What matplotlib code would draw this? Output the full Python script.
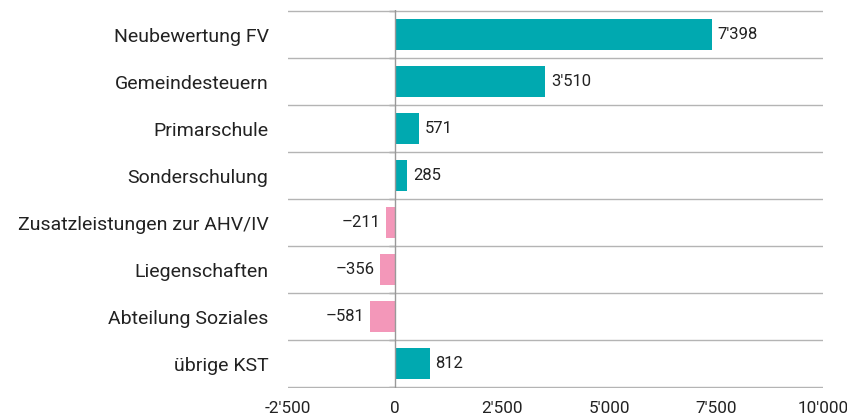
import matplotlib.pyplot as plt
import numpy as np

categories = ['Neubewertung FV', 'Gemeindesteuern', 'Primarschule', 'Sonderschulung',
              'Zusatzleistungen zur AHV/IV', 'Liegenschaften', 'Abteilung Soziales', 'übrige KST']
values = [7398, 3510, 571, 285, -211, -356, -581, 812]
xticks = [-2500, 0, 2500, 5000, 7500, 10000]

plt.rcParams['font.family'] = ['Roboto', 'DejaVu Sans']

def fmt(v, neg='–'):
    s = f"{abs(v):,}".replace(',', "'")
    return (neg + s) if v < 0 else s

fig = plt.figure(figsize=(8.47, 4.2), dpi=100)
ax = fig.add_axes([288 / 847, 1 - 388.3 / 420, (823 - 288) / 847, (388.3 - 10.3) / 420])

y = np.arange(len(categories))
colors = ['#00a9b0' if v >= 0 else '#f397b9' for v in values]
ax.barh(y, values, height=0.66, color=colors, zorder=3)

for yi, v in zip(y, values):
    if v >= 0:
        ax.annotate(fmt(v), (v, yi), xytext=(4, 0), textcoords='offset points',
                    va='center', ha='left', fontsize=12, color='#222222')
    else:
        ax.annotate(fmt(v), (v, yi), xytext=(-4, 0), textcoords='offset points',
                    va='center', ha='right', fontsize=12, color='#222222')

ax.set_xlim(-2500, 10000)
ax.set_ylim(len(categories) - 0.48, -0.52)
ax.set_yticks(y)
ax.set_yticklabels(categories, fontsize=14, color='#222222')
bounds = np.arange(-0.5, len(categories))
ax.set_yticks(bounds, minor=True)
ax.grid(axis='y', which='minor', color='#b4b4b4', linewidth=1, zorder=0)
ax.tick_params(axis='y', which='both', length=0, pad=14)

# small tick marks left of the zero line
ax.hlines(bounds, -140, 0, color='#8c8c8c', linewidth=1, zorder=1)

ax.set_xticks(xticks)
ax.set_xticklabels([fmt(t, '-') for t in xticks], fontsize=12.3, color='#222222')
ax.tick_params(axis='x', length=0, pad=9)

ax.axvline(0, color='#999999', linewidth=1, zorder=4)
for s in ax.spines.values():
    s.set_visible(False)

fig.savefig('out.png', dpi=100)
